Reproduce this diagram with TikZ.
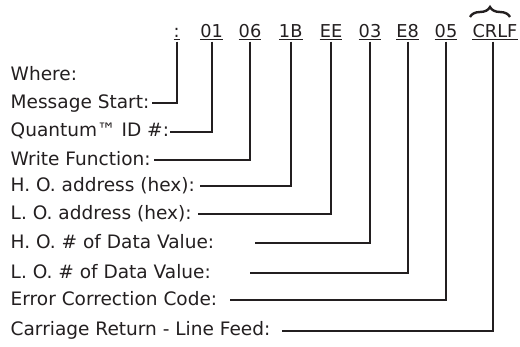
\documentclass[tikz,border=0pt]{standalone}
\usepackage{fontspec}
\setmainfont{DejaVu Sans}
\usetikzlibrary{decorations.pathreplacing}
\definecolor{ink}{HTML}{231F20}
\begin{document}
\begin{tikzpicture}[x=1bp,y=-1bp,
  font=\fontsize{18.6}{22}\selectfont,
  lbl/.style={anchor=base west, inner sep=0pt, text=ink},
  code/.style={anchor=base, inner sep=0pt, text=ink, font=\fontsize{17.8}{21}\selectfont},
  wire/.style={draw=ink, line width=2bp},
  uline/.style={draw=ink, line width=1.1bp},
  bracestyle/.style={draw=ink, line width=2.4bp, decorate, decoration={brace, amplitude=10bp}}]
\useasboundingbox (0,0) rectangle (520,346);
% top codes
\node[code] (t0) at (176.7,37.3) {:};
\node[code] (t1) at (211.7,37.3) {01};
\node[code] (t2) at (250,37.3) {06};
\node[code] (t3) at (290.7,37.3) {1B};
\node[code] (t4) at (331,37.3) {EE};
\node[code] (t5) at (370,37.3) {03};
\node[code] (t6) at (407.7,37.3) {E8};
\node[code] (t7) at (446,37.3) {05};
\node[code] (t8) at (495,37.3) {CRLF};
\foreach \i in {0,...,8} {
  \draw[uline] ([yshift=-2.3bp]t\i.base west) -- ([yshift=-2.3bp]t\i.base east);
}
\draw[bracestyle] (470,17) -- (510,17);
% labels
\node[lbl] (w) at (10.5,80.7) {Where:};
\node[lbl] (l0) at (10.5,108.5) {Message Start:};
\node[lbl] (l1) at (10.5,136.9) {Quantum™ ID \#:};
\node[lbl] (l2) at (10.5,165.2) {Write Function:};
\node[lbl] (l3) at (10.5,191.2) {H. O. address (hex):};
\node[lbl] (l4) at (10.5,219.2) {L. O. address (hex):};
\node[lbl] (l5) at (10.5,248.5) {H. O. \# of Data Value:};
\node[lbl] (l6) at (10.5,278.2) {L. O. \# of Data Value:};
\node[lbl] (l7) at (10.5,305.2) {Error Correction Code:};
\node[lbl] (l8) at (10.5,335.9) {Carriage Return - Line Feed:};
% line ends
\coordinate (e0) at (151.7,103.3);
\coordinate (e1) at (170,131.7);
\coordinate (e2) at (154,160);
\coordinate (e3) at (200,186);
\coordinate (e4) at (198,214);
\coordinate (e5) at (255,243.3);
\coordinate (e6) at (250,273);
\coordinate (e7) at (230,300);
\coordinate (e8) at (281.7,330.7);
\foreach \i/\xx in {0/176.7,1/211.7,2/250,3/290.7,4/331,5/370,6/407.7,7/446,8/493.3} {
  \draw[wire] (\xx,41.5) |- (e\i);
}
\end{tikzpicture}
\end{document}
